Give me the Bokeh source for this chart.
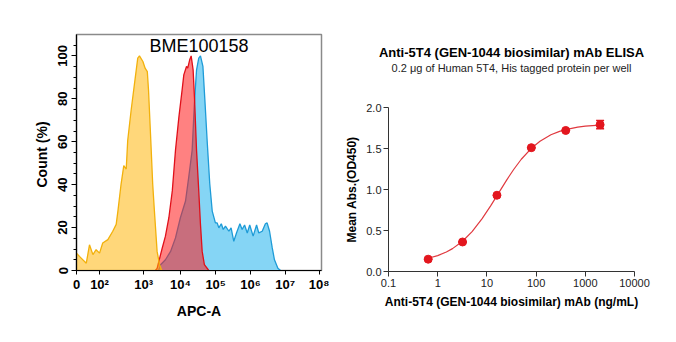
from bokeh.plotting import figure
from bokeh.layouts import row, column
from bokeh.models import (FixedTicker, Label, Whisker, TeeHead, ColumnDataSource,
                          NumeralTickFormatter, Title)
from bokeh.embed import file_html
from bokeh.resources import INLINE

FONT = "Liberation Sans"

# ---------------- Flow cytometry histogram data (channel scale 0..1000) ----------------
hist_tick_pos = [0, 94, 274, 424, 568, 710, 852, 990]
hist_tick_labels = ["0", "10²", "10³", "10⁴", "10⁵", "10⁶", "10⁷", "10⁸"]

yellow_x = [0, 12, 40, 53, 67, 80, 94, 107, 128, 148, 162, 169, 182, 193, 203, 209, 223, 237,
            250, 257, 271, 280, 289, 294, 302, 311, 318, 329, 339, 348]
yellow_y = [8.1, 6.6, 3.4, 12.0, 7.4, 9.7, 8.1, 12.8, 14.4, 18.3, 21.5, 27.7, 40.3, 48.9, 47.3,
            60.6, 74.7, 87.3, 99.0, 100.0, 97.4, 94.3, 92.7, 84.0, 63.8, 40.3, 27.7, 8.9, 2.7, 0.0]

red_x = [322, 329, 336, 350, 363, 377, 391, 404, 418, 431, 438, 449, 454, 462, 468, 476, 482,
         490, 499, 506, 513, 522, 540]
red_y = [0.0, 1.0, 4.2, 10.5, 16.0, 24.6, 37.1, 56.0, 71.6, 84.1, 91.2, 95.1, 94.3, 98.2, 100.0,
         93.5, 79.4, 56.0, 37.1, 21.5, 8.9, 2.7, 0.0]

blue_x = [335, 343, 363, 384, 404, 424, 445, 458, 472, 482, 490, 499, 506, 516, 524, 534, 544,
          554, 567, 574, 581, 591, 599, 608, 622, 631, 642, 653, 667, 676, 686, 697, 707, 721,
          735, 744, 758, 771, 778, 788, 799, 808, 822, 833]
blue_y = [0.0, 2.7, 5.0, 8.9, 15.2, 24.6, 32.4, 43.4, 56.0, 79.4, 93.5, 99.0, 100.0, 95.1, 79.4,
          59.1, 40.3, 27.7, 22.2, 22.2, 19.9, 21.8, 19.1, 20.7, 18.3, 19.9, 13.6, 17.5, 21.8,
          19.1, 21.2, 17.5, 21.2, 16.0, 21.2, 17.5, 18.3, 21.8, 22.2, 18.3, 10.5, 5.0, 1.1, 0.0]

# ---------------- ELISA data ----------------
conc = [0.64, 3.2, 16, 80, 400, 2000]
od = [0.15, 0.36, 0.93, 1.51, 1.72, 1.79]
od_err = [0.0, 0.0, 0.0, 0.0, 0.0, 0.05]

fit_x = [0.64, 1, 1.5, 2, 3.2, 5, 8, 12, 17, 25, 35, 50, 80, 120, 200, 300, 400, 700, 1000,
         1400, 2000]
fit_y = [0.162, 0.194, 0.238, 0.279, 0.369, 0.486, 0.644, 0.803, 0.95, 1.112, 1.244, 1.369,
         1.502, 1.589, 1.667, 1.709, 1.731, 1.760, 1.772, 1.780, 1.786]

elisa_ticks = [0.1, 1, 10, 100, 1000, 10000]
elisa_tick_labels = ["0.1", "1", "10", "100", "1000", "10000"]
elisa_title = "Anti-5T4 (GEN-1044 biosimilar) mAb ELISA"
elisa_subtitle = "0.2 μg of Human 5T4, His tagged protein per well"

# ======================= Left: histogram =======================
p1 = figure(width=340, height=342, x_range=(0, 1000), y_range=(0, 110),
            output_backend="svg", toolbar_location=None,
            min_border_left=76, min_border_right=19, min_border_top=34, min_border_bottom=72)
p1.grid.visible = False
p1.outline_line_color = "#8a8a8a"
p1.outline_line_width = 1.5
p1.background_fill_color = "white"
p1.border_fill_color = "white"

p1.varea(x=blue_x, y1=0, y2=blue_y, fill_color="#85D5F5", fill_alpha=1.0)
p1.line(blue_x, blue_y, line_color="#1E9BD7", line_width=1.3)
p1.varea(x=red_x, y1=0, y2=red_y, fill_color="#FF1A1A", fill_alpha=0.55)
p1.line(red_x, red_y, line_color="#E0101A", line_width=1.3)
p1.varea(x=yellow_x, y1=0, y2=yellow_y, fill_color="#FFB300", fill_alpha=0.52)
p1.line(yellow_x, yellow_y, line_color="#F2B10C", line_width=1.3)

p1.add_layout(Label(x=500, y=104.8, text="BME100158", text_align="center",
                    text_baseline="middle", text_font=FONT, text_font_size="18px",
                    text_color="black"))

xa = p1.xaxis[0]
xa.ticker = FixedTicker(ticks=hist_tick_pos)
xa.major_label_overrides = {k: v for k, v in zip(hist_tick_pos, hist_tick_labels)}
xa.axis_label = "APC-A"
for ax in (p1.xaxis[0], p1.yaxis[0]):
    ax.axis_label_text_font = FONT
    ax.axis_label_text_font_style = "bold"
    ax.axis_label_text_font_size = "14px"
    ax.axis_label_text_color = "black"
    ax.major_label_text_font = FONT
    ax.major_label_text_font_style = "bold"
    ax.major_label_text_font_size = "13px"
    ax.major_label_text_color = "black"
    ax.axis_line_color = "black"
    ax.axis_line_width = 1.2
    ax.major_tick_line_color = "black"
    ax.minor_tick_line_color = "black"
    ax.major_tick_in = 0
    ax.minor_tick_in = 0
xa.major_tick_out = 4
xa.minor_tick_out = 0
xa.major_label_standoff = 2
xa.axis_label_standoff = 8

ya = p1.yaxis[0]
ya.ticker = FixedTicker(ticks=[0, 20, 40, 60, 80, 100],
                        minor_ticks=[5, 10, 15, 25, 30, 35, 45, 50, 55, 65, 70, 75, 85, 90, 95, 105])
ya.major_label_orientation = "vertical"
ya.axis_label = "Count  (%)"
ya.major_tick_out = 5
ya.minor_tick_out = 3
ya.major_label_standoff = 4
ya.axis_label_standoff = 6

# ======================= Right: ELISA =======================
p2 = figure(width=336, height=342, x_axis_type="log", x_range=(0.1, 10000), y_range=(0, 2.0),
            output_backend="svg", toolbar_location=None,
            min_border_left=48, min_border_right=42, min_border_top=107, min_border_bottom=71)
p2.grid.visible = False
p2.outline_line_color = None
p2.background_fill_color = "white"
p2.border_fill_color = "white"

red = "#E3161E"
p2.line(fit_x, fit_y, line_color="#E0393F", line_width=1.2)
p2.scatter(conc, od, size=8, fill_color=red, line_color=red)
src = ColumnDataSource(dict(x=conc, upper=[a + b for a, b in zip(od, od_err)],
                            lower=[a - b for a, b in zip(od, od_err)]))
p2.add_layout(Whisker(source=src, base="x", upper="upper", lower="lower", dimension="height",
                      line_color=red, line_width=1.5,
                      upper_head=TeeHead(size=8, line_color=red, line_width=1.5),
                      lower_head=TeeHead(size=8, line_color=red, line_width=1.5)))

# spacer panel (blank) between frame and subtitle
p2.add_layout(Title(text=" ", text_font=FONT, text_font_size="11px", standoff=20), "above")
p2.add_layout(Title(text=elisa_subtitle, align="center", text_font=FONT,
                    text_font_style="normal", text_font_size="11px", text_color="#222222",
                    standoff=0), "above")
p2.add_layout(Title(text=elisa_title, align="center", text_font=FONT,
                    text_font_style="bold", text_font_size="13px", text_color="black",
                    standoff=0), "above")

xb = p2.xaxis[0]
xb.ticker = FixedTicker(ticks=elisa_ticks)
xb.major_label_overrides = {k: v for k, v in zip(elisa_ticks, elisa_tick_labels)}
xb.axis_label = "Anti-5T4 (GEN-1044 biosimilar) mAb (ng/mL)"
yb = p2.yaxis[0]
yb.ticker = FixedTicker(ticks=[0, 0.5, 1.0, 1.5, 2.0])
yb.formatter = NumeralTickFormatter(format="0.0")
yb.axis_label = "Mean Abs.(OD450)"
for ax in (xb, yb):
    ax.axis_label_text_font = FONT
    ax.axis_label_text_font_style = "bold"
    ax.axis_label_text_font_size = "12px"
    ax.axis_label_text_color = "black"
    ax.major_label_text_font = FONT
    ax.major_label_text_font_style = "normal"
    ax.major_label_text_font_size = "11px"
    ax.major_label_text_color = "#222222"
    ax.axis_line_color = "#333333"
    ax.axis_line_width = 1
    ax.major_tick_line_color = "#333333"
    ax.major_tick_in = 0
    ax.major_tick_out = 5
    ax.minor_tick_line_color = None
    ax.major_label_standoff = 2
xb.axis_label_standoff = 5
yb.axis_label_standoff = 4

layout = row(column(p1), column(p2))
open("out.html", "w").write(file_html(layout, INLINE))
